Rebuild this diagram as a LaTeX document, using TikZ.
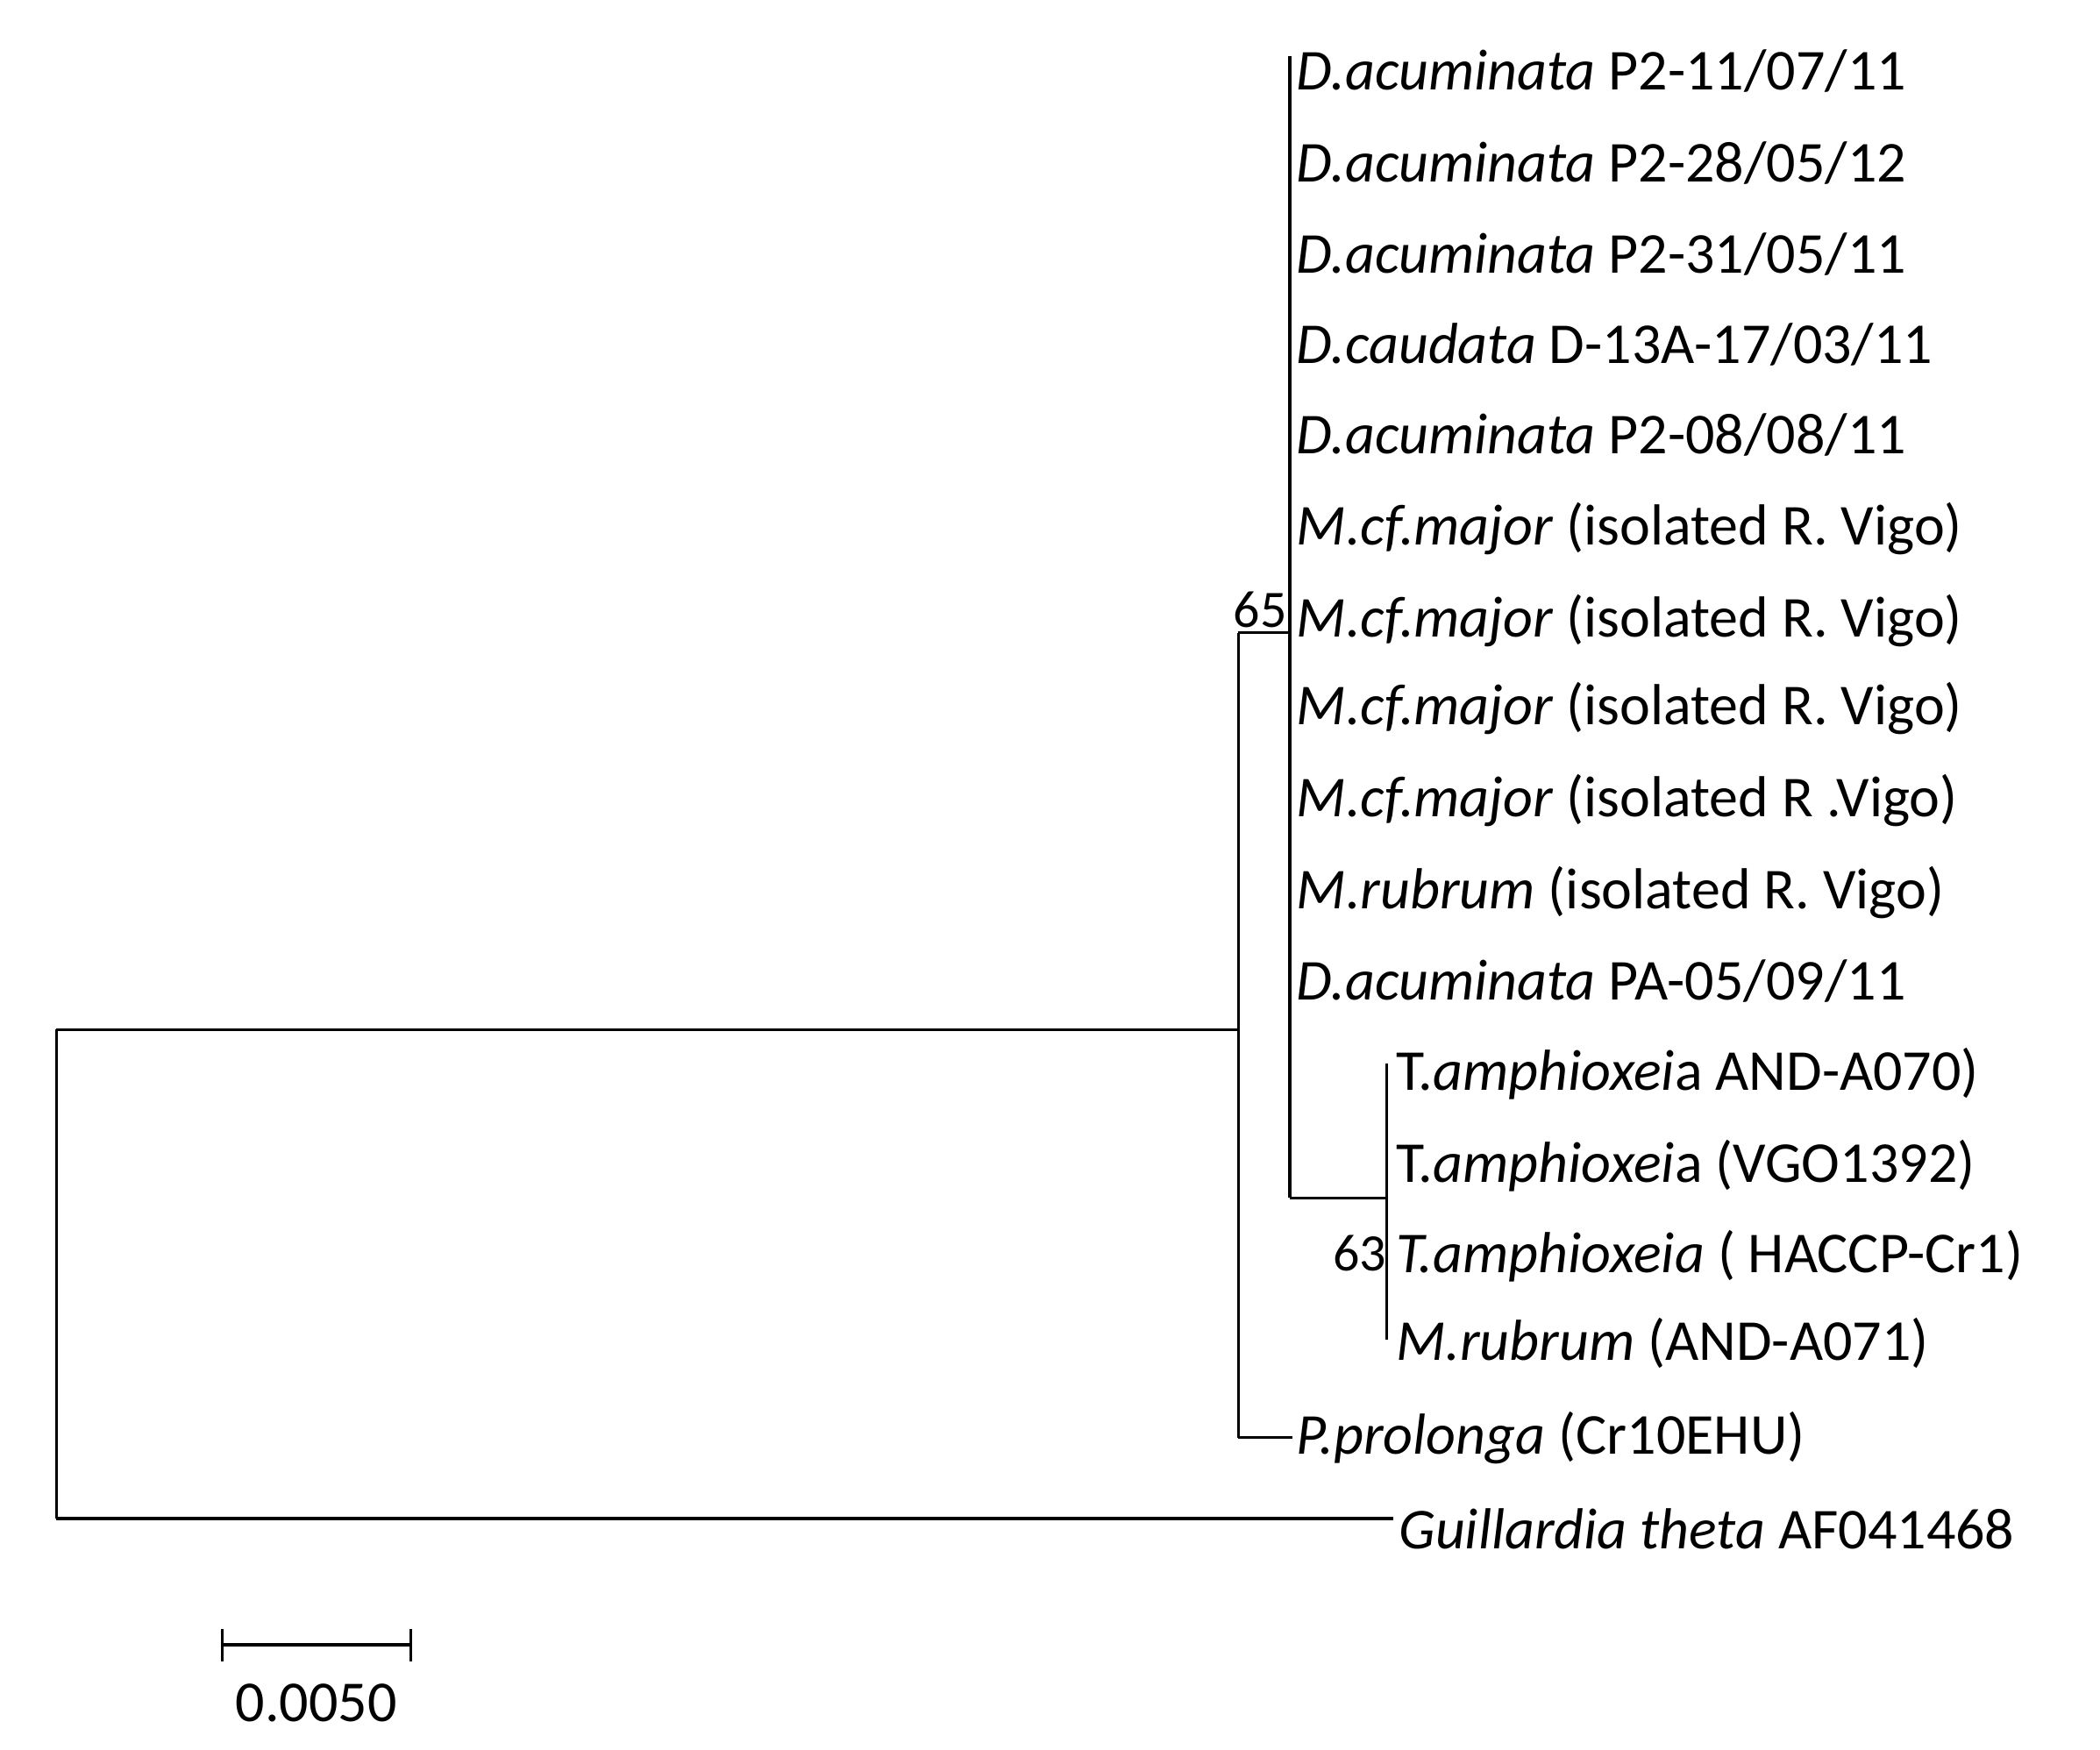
\documentclass[tikz,border=0pt]{standalone}
\usepackage{fontspec}
\setmainfont{Carlito}
\begin{document}
\begin{tikzpicture}[x=1.5353pt,y=-1.5353pt,line width=3.5pt,
 lab/.style={anchor=west,inner sep=0pt,font=\fontsize{66}{72}\selectfont},
 bs/.style={anchor=east,inner sep=0pt,font=\fontsize{60}{66}\selectfont}]
\useasboundingbox (0,0) rectangle (1560,1300);
\coordinate (n1) at (920,765);
\coordinate (n2) at (958,470);
\coordinate (n3) at (1030,890);
% root
\draw (42,765) -- (42,1128);
\draw (42,765) -- (n1);
\draw (42,1128) -- (1035,1128);
\node[lab] (g) at (1038,1136) {\textit{Guillardia theta} AF041468};
% node 1
\draw (920,470) -- (920,1068);
\draw (920,470) -- (n2);
\draw (920,1068) -- (960,1068);
\node[lab] (pp) at (962,1068) {\textit{P.prolonga} (Cr10EHU)};
\node[bs] (b65) at (957,453) {65};
% node 2
\draw (958,42) -- (958,890);
\draw (958,890) -- (n3);
\foreach \y/\t in {53/{\textit{D.acuminata} P2-11/07/11},121/{\textit{D.acuminata} P2-28/05/12},189/{\textit{D.acuminata} P2-31/05/11},256/{\textit{D.caudata} D-13A-17/03/11},323/{\textit{D.acuminata} P2-08/08/11},393/{\textit{M.cf.major} (isolated R. Vigo)},461/{\textit{M.cf.major} (isolated R. Vigo)},526/{\textit{M.cf.major} (isolated R. Vigo)},595/{\textit{M.cf.major} (isolated R .Vigo)},663/{\textit{M.rubrum} (isolated R. Vigo)},729/{\textit{D.acuminata} PA-05/09/11}}
  \node[lab] at (962,\y) {\t};
% node 3
\draw (1030,790) -- (1030,995);
\foreach \y/\t in {798/{T.\textit{amphioxei}a AND-A070)},866/{T.\textit{amphioxei}a (VGO1392)},933/{\textit{T.amphioxeia} ( HACCP-Cr1)},998/{\textit{M.rubrum} (AND-A071)}}
  \node[lab] at (1036,\y) {\t};
\node[bs] (b63) at (1031,931) {63};
% scale bar
\draw (165,1222) -- (305,1222);
\draw (165,1210) -- (165,1234);
\draw (305,1210) -- (305,1234);
\node[lab,anchor=center] (sc) at (235,1265) {0.0050};
\end{tikzpicture}
\end{document}
